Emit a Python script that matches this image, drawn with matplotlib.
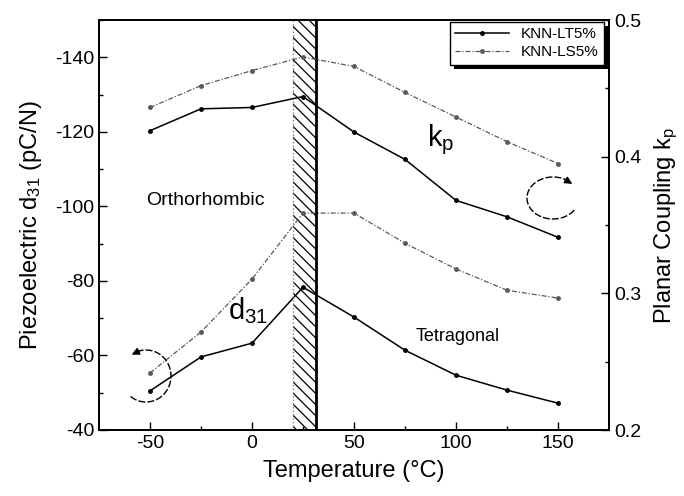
import numpy as np
import matplotlib
matplotlib.use("Agg")
import matplotlib.pyplot as plt
import matplotlib.transforms as mtransforms
from matplotlib.patches import Rectangle

plt.rcParams["font.family"] = ["Liberation Sans", "DejaVu Sans"]
plt.rcParams["mathtext.fontset"] = "custom"
plt.rcParams["mathtext.rm"] = "Liberation Sans"
plt.rcParams["mathtext.it"] = "Liberation Sans"
plt.rcParams["mathtext.default"] = "regular"
plt.rcParams["axes.unicode_minus"] = False
plt.rcParams["hatch.linewidth"] = 0.9

# ---------- Data ----------
temp = [-50, -25, 0, 25, 50, 75, 100, 125, 150]

d31_lt = [-50.5, -59.6, -63.3, -78.3, -70.3, -61.4, -54.7, -50.7, -47.2]
d31_ls = [-55.3, -66.3, -80.5, -98.2, -98.2, -90.1, -83.2, -77.5, -75.4]

kp_lt = [0.419, 0.435, 0.436, 0.444, 0.418, 0.398, 0.368, 0.356, 0.341]
kp_ls = [0.436, 0.452, 0.463, 0.473, 0.466, 0.447, 0.429, 0.411, 0.395]

phase_band = (20, 31.5)

# ---------- Figure ----------
fig = plt.figure(figsize=(6.84, 4.96), dpi=100)
ax = fig.add_axes([99 / 684, 66 / 496, 510 / 684, 410 / 496])
ax2 = ax.twinx()

ls_style = (0, (4, 1.5, 1, 1.5))

ax.plot(temp, d31_lt, color="black", lw=1.1, marker="o", ms=2.5, label="KNN-LT5%")
ax.plot(temp, d31_ls, color="0.35", lw=0.9, ls=ls_style, marker="o", ms=2.5,
        label="KNN-LS5%")
ax2.plot(temp, kp_lt, color="black", lw=1.1, marker="o", ms=2.5)
ax2.plot(temp, kp_ls, color="0.35", lw=0.9, ls=ls_style, marker="o", ms=2.5)

# hatched phase boundary band
ax.axvspan(phase_band[0], phase_band[1], facecolor="none", edgecolor="black",
           hatch="\\\\\\", lw=0, zorder=0)
ax.axvline(phase_band[0], color="0.5", lw=1, ls=":")
ax.axvline(phase_band[1], color="black", lw=2)

ax.set_xlim(-75, 175)
ax.set_ylim(-40, -150)
ax2.set_ylim(0.2, 0.5)

ax.set_xticks([-50, 0, 50, 100, 150])
ax.set_xticks([-25, 25, 75, 125], minor=True)
ax.set_yticks([-40, -60, -80, -100, -120, -140])
ax.set_yticks([-50, -70, -90, -110, -130, -150], minor=True)
ax2.set_yticks([0.2, 0.3, 0.4, 0.5])
ax2.set_yticks([0.25, 0.35, 0.45], minor=True)
ax2.set_yticklabels(["0.2", "0.3", "0.4", "0.5"])

for a in (ax, ax2):
    a.tick_params(which="both", direction="in", labelsize=14)
    a.tick_params(which="major", length=6, width=1)
    a.tick_params(which="minor", length=3, width=1)
    for s in a.spines.values():
        s.set_linewidth(1.3)

ax.set_xlabel("Temperature (°C)", fontsize=17, labelpad=6)
ax.set_ylabel("Piezoelectric d$_{31}$ (pC/N)", fontsize=17, labelpad=8)
ax2.set_ylabel("Planar Coupling k$_p$", fontsize=17, labelpad=8)

# text labels
ax.text(-23, -101.5, "Orthorhombic", fontsize=14, ha="center", va="center")
ax.text(101, -65, "Tetragonal", fontsize=13, ha="center", va="center")
ax.text(-12, -72, "d$_{31}$", fontsize=21, ha="left", va="center")
ax.text(86, -118, "k$_p$", fontsize=21, ha="left", va="center")

# curved arrows (decoration, in pixel coordinates)
px = mtransforms.Affine2D().scale(1 / 100) + fig.dpi_scale_trans


def curl(cx, cy, rx, ry, a0, a1):
    th = np.radians(np.linspace(a0, a1, 80))
    xs = cx + rx * np.cos(th)
    ys = cy + ry * np.sin(th)
    fig.add_artist(plt.Line2D(xs[:-4], ys[:-4], transform=px, color="black",
                              lw=1, ls=(0, (5, 1.5))))
    ax2.annotate("", xy=(xs[-1], ys[-1]), xytext=(xs[-7], ys[-7]),
                 xycoords=px, textcoords=px,
                 arrowprops=dict(arrowstyle="-|>", color="black", lw=1,
                                 mutation_scale=11, shrinkA=0, shrinkB=0))


curl(146, 120, 25, 26, -128, 125)
curl(553, 298, 26, 21, -35, -318)

handles, labels = ax.get_legend_handles_labels()
leg = ax2.legend(handles, labels, loc="upper right",
                 bbox_to_anchor=(0.99, 0.995), borderaxespad=0,
                 fontsize=11, frameon=True, fancybox=False, framealpha=1,
                 facecolor="white", edgecolor="black",
                 handlelength=3.5, borderpad=0.35, labelspacing=0.25)
leg.get_frame().set_linewidth(1)
leg.set_zorder(6)

# black drop shadow behind the legend
fig.canvas.draw()
bb = leg.get_window_extent().transformed(px.inverted())
ax2.add_patch(Rectangle((bb.x0 + 4, bb.y0 - 4), bb.width, bb.height,
                        transform=px, facecolor="black", edgecolor="none",
                        zorder=5, clip_on=False))

fig.savefig("out.png", dpi=100)
